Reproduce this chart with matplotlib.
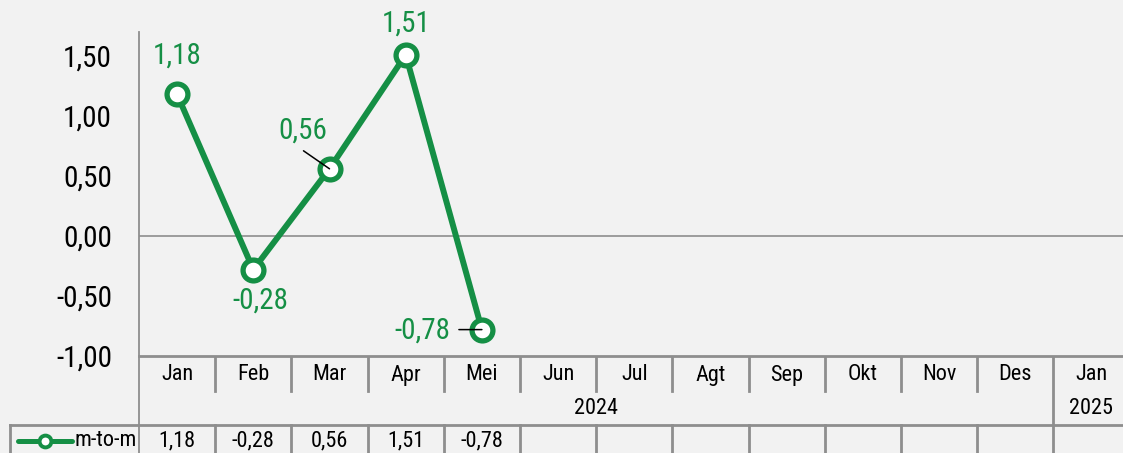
import matplotlib.pyplot as plt
import matplotlib.font_manager as fm

# data
months = ["Jan", "Feb", "Mar", "Apr", "Mei", "Jun", "Jul", "Agt", "Sep", "Okt", "Nov", "Des", "Jan"]
years = ["2024", "2025"]
year_span = [(0, 11), (12, 12)]
mtm = [1.18, -0.28, 0.56, 1.51, -0.78]
series_name = "m-to-m"
yticks = [-1.0, -0.5, 0.0, 0.5, 1.0, 1.5]

green = "#158F45"
grid_c = "#8E8E8E"
bg = "#F2F2F2"

names = {f.name for f in fm.fontManager.ttflist}
cands = ["Liberation Sans Narrow", "Arial Narrow", "Roboto Condensed", "Archivo Narrow",
         "Liberation Sans", "DejaVu Sans"]
fam = [f for f in cands if f in names]
plt.rcParams["font.family"] = fam

def fmt(v):
    return f"{v:.2f}".replace(".", ",")

W, H = 1123, 453
fig = plt.figure(figsize=(W / 100, H / 100), dpi=100, facecolor=bg)

colw = 76.2
x0 = 139
xl = -0.5
xr = xl + (W - x0) / colw

ax = fig.add_axes([x0 / W, (H - 356) / H, (W - x0) / W, (356 - 32) / H])
ax.set_facecolor(bg)
ax.set_xlim(xl, xr)
ax.set_ylim(-1.0, 1.7)
for s in ["top", "right"]:
    ax.spines[s].set_visible(False)
ax.spines["left"].set_color(grid_c)
ax.spines["left"].set_linewidth(1.3)
ax.spines["bottom"].set_color(grid_c)
ax.spines["bottom"].set_linewidth(2)
ax.set_xticks([])
ax.set_yticks(yticks)
ax.set_yticklabels([fmt(v) for v in yticks], fontsize=21)
ax.tick_params(axis="y", length=0, pad=19.5)
ax.axhline(0, color=grid_c, lw=1.2, zorder=1)

xs = list(range(len(mtm)))
ax.plot(xs, mtm, color=green, lw=4.3, marker="o", markersize=15,
        markerfacecolor="white", markeredgecolor=green, markeredgewidth=3.8,
        zorder=3, clip_on=False)

# data labels: (dx, dy, ha, leader end)
lab = [
    (0, 39, "center", None),
    (7, -31, "center", None),
    (-27, 38, "center", (-26, 18)),
    (0, 31, "center", None),
    (-32, -1, "right", (-23, 0)),
]
for x, v, (dx, dy, ha, lead) in zip(xs, mtm, lab):
    ax.annotate(fmt(v), (x, v), xytext=(dx, dy),
                textcoords="offset pixels", ha=ha, va="center",
                fontsize=21, color=green, zorder=5)
    if lead is not None:
        ax.annotate("", (x, v), xytext=lead, textcoords="offset pixels",
                    arrowprops=dict(arrowstyle="-", color="black", lw=1.1,
                                    shrinkA=0, shrinkB=0), zorder=4)

# table below the plot
tx = fig.add_axes([0, 0, 1, (H - 356) / H])
tx.set_facecolor("none")
tl = xl - x0 / colw
tx.set_xlim(tl, xr)
tx.set_ylim(97, 0)
tx.axis("off")

def px(p):
    return tl + p / colw

kw = dict(color=grid_c, lw=2)
n = len(months)
for k in range(n - 1):
    xb = k + 0.5
    if k == year_span[0][1]:
        tx.plot([xb, xb], [0, 97], **kw)
    else:
        tx.plot([xb, xb], [0, 35], **kw)
        tx.plot([xb, xb], [69, 97], **kw)
tx.plot([px(10), xr], [69, 69], **kw)
tx.plot([px(10), px(10)], [69, 97], **kw)
tx.plot([xl, xl], [0, 97], color=grid_c, lw=1.3)

for i, m in enumerate(months):
    tx.text(i, 19, m, ha="center", va="center", fontsize=16)
for yr, (a, b) in zip(years, year_span):
    tx.text((a + b) / 2, 52, yr, ha="center", va="center", fontsize=16)
for i, v in enumerate(mtm):
    tx.text(i, 85, fmt(v), ha="center", va="center", fontsize=16)

tx.plot([px(18), px(72)], [85, 85], color=green, lw=3.6, solid_capstyle="round")
tx.plot([px(45)], [85], marker="o", markersize=8.5, markerfacecolor="white",
        markeredgecolor=green, markeredgewidth=2.8)
tx.text(px(75), 85, series_name, ha="left", va="center", fontsize=16)

fig.savefig("out.png", dpi=100, facecolor=bg)
